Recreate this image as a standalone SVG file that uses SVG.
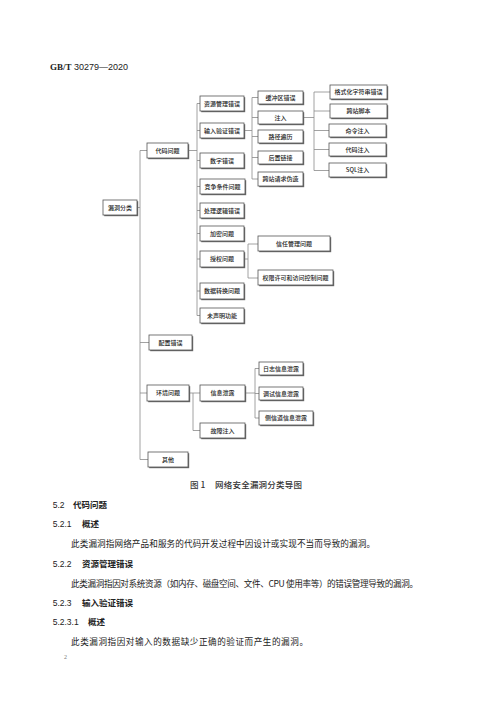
<svg xmlns="http://www.w3.org/2000/svg" width="500" height="707" viewBox="0 0 500 707">
<defs>
<style>
.bx rect.s{fill:#6a6a6a;}
.bx rect.b{fill:#fff;stroke:#555;stroke-width:0.8;}
.bx text{font-family:"Noto Sans CJK SC","Noto Sans",sans-serif;font-size:6px;font-weight:500;fill:#222;text-anchor:middle;}
.cn path{fill:none;stroke:#8a8a8a;stroke-width:0.8;}
.h{font-family:"Noto Sans CJK SC","Liberation Sans",sans-serif;font-size:8.5px;font-weight:700;fill:#222;}
.num{font-family:"Liberation Sans","Noto Sans CJK SC",sans-serif;font-size:8.5px;font-weight:400;fill:#222;}
.p{font-family:"Noto Sans CJK SC",sans-serif;font-size:8.6px;font-weight:400;fill:#222;}
.cap{font-family:"Noto Sans CJK SC","Liberation Sans",sans-serif;font-size:8.5px;font-weight:500;fill:#333;}
</style>
</defs>
<rect x="0" y="0" width="500" height="707" fill="#fff"/>

<text x="50" y="69.5" style="font-family:'Liberation Serif',serif;font-size:9px;font-weight:700;fill:#222">GB/T<tspan style="font-family:'Liberation Sans',sans-serif;font-weight:400"> 30279—2020</tspan></text>

<g class="cn" id="connectors">
<path d="M137 207.5H140M140 150.5V459.5M140 150.5H147M140 342.5H149M140 393H147M140 459.5H148"/>
<path d="M188 150.5H197M197 103.5V315.5M197 103.5H200M197 130.5H200M197 160.5H200M197 186.5H200M197 210.5H200M197 233.5H200M197 259H200M197 291H200M197 315.5H200"/>
<path d="M244 130.5H252M252 97.5V179M252 97.5H258M252 117.5H258M252 136.5H258M252 157.5H258M252 179H258"/>
<path d="M303 117.5H314M314 92V170.5M314 92H330M314 111H330M314 130.5H330M314 149.5H330M314 170.5H330"/>
<path d="M244 259H248M248 244V278M248 244H258M248 278H258"/>
<path d="M189 393H193M193 393V430.5M193 393H200M193 430.5H200"/>
<path d="M245 393H255M255 368.5V418M255 368.5H259M255 393.5H259M255 418H259"/>
</g>

<g class="bx" id="n-root"><rect class="s" x="104.2" y="201.2" width="34" height="15"/><rect class="b" x="103" y="200" width="34" height="15"/><text x="120" y="209.6">漏洞分类</text></g>

<g class="bx" id="n-code"><rect class="s" x="148.2" y="144.2" width="41" height="15"/><rect class="b" x="147" y="143" width="41" height="15"/><text x="167.5" y="152.6">代码问题</text></g>
<g class="bx" id="n-config"><rect class="s" x="150.2" y="336.2" width="43" height="15"/><rect class="b" x="149" y="335" width="43" height="15"/><text x="170.5" y="344.6">配置错误</text></g>
<g class="bx" id="n-env"><rect class="s" x="148.2" y="386.2" width="42" height="16"/><rect class="b" x="147" y="385" width="42" height="16"/><text x="168" y="395.1">环境问题</text></g>
<g class="bx" id="n-other"><rect class="s" x="149.2" y="453.2" width="40" height="15"/><rect class="b" x="148" y="452" width="40" height="15"/><text x="168" y="461.6">其他</text></g>

<g class="bx" id="n-res"><rect class="s" x="201.2" y="97.2" width="44" height="15"/><rect class="b" x="200" y="96" width="44" height="15"/><text x="222" y="105.6">资源管理错误</text></g>
<g class="bx" id="n-input"><rect class="s" x="201.2" y="124.2" width="44" height="15"/><rect class="b" x="200" y="123" width="44" height="15"/><text x="222" y="132.6">输入验证错误</text></g>
<g class="bx" id="n-num"><rect class="s" x="201.2" y="154.2" width="44" height="15"/><rect class="b" x="200" y="153" width="44" height="15"/><text x="222" y="162.6">数字错误</text></g>
<g class="bx" id="n-race"><rect class="s" x="201.2" y="180.2" width="45" height="15"/><rect class="b" x="200" y="179" width="45" height="15"/><text x="222.5" y="188.6">竞争条件问题</text></g>
<g class="bx" id="n-logic"><rect class="s" x="201.2" y="204.2" width="44" height="15"/><rect class="b" x="200" y="203" width="44" height="15"/><text x="222" y="212.6">处理逻辑错误</text></g>
<g class="bx" id="n-crypto"><rect class="s" x="201.2" y="227.2" width="44" height="15"/><rect class="b" x="200" y="226" width="44" height="15"/><text x="222" y="235.6">加密问题</text></g>
<g class="bx" id="n-auth"><rect class="s" x="201.2" y="252.2" width="44" height="16"/><rect class="b" x="200" y="251" width="44" height="16"/><text x="222" y="261.1">授权问题</text></g>
<g class="bx" id="n-conv"><rect class="s" x="201.2" y="284.2" width="44" height="16"/><rect class="b" x="200" y="283" width="44" height="16"/><text x="222" y="293.1">数据转换问题</text></g>
<g class="bx" id="n-undecl"><rect class="s" x="201.2" y="309.2" width="44" height="15"/><rect class="b" x="200" y="308" width="44" height="15"/><text x="222" y="317.6">未声明功能</text></g>

<g class="bx" id="n-buf"><rect class="s" x="259.2" y="92.2" width="45" height="13"/><rect class="b" x="258" y="91" width="45" height="13"/><text x="280.5" y="99.6">缓冲区错误</text></g>
<g class="bx" id="n-inj"><rect class="s" x="259.2" y="112.2" width="45" height="13"/><rect class="b" x="258" y="111" width="45" height="13"/><text x="280.5" y="119.6">注入</text></g>
<g class="bx" id="n-path"><rect class="s" x="259.2" y="131.2" width="45" height="13"/><rect class="b" x="258" y="130" width="45" height="13"/><text x="280.5" y="138.6">路径遍历</text></g>
<g class="bx" id="n-link"><rect class="s" x="259.2" y="152.2" width="45" height="13"/><rect class="b" x="258" y="151" width="45" height="13"/><text x="280.5" y="159.6">后置链接</text></g>
<g class="bx" id="n-csrf"><rect class="s" x="259.2" y="173.2" width="45" height="14"/><rect class="b" x="258" y="172" width="45" height="14"/><text x="280.5" y="181.1">跨站请求伪造</text></g>

<g class="bx" id="n-fmt"><rect class="s" x="331.2" y="86.2" width="57" height="14"/><rect class="b" x="330" y="85" width="57" height="14"/><text x="358.5" y="94.1">格式化字符串错误</text></g>
<g class="bx" id="n-xss"><rect class="s" x="331.2" y="105.2" width="57" height="14"/><rect class="b" x="330" y="104" width="57" height="14"/><text x="358.5" y="113.1">跨站脚本</text></g>
<g class="bx" id="n-cmd"><rect class="s" x="330.2" y="125.2" width="57" height="13"/><rect class="b" x="329" y="124" width="57" height="13"/><text x="357.5" y="132.6">命令注入</text></g>
<g class="bx" id="n-codeinj"><rect class="s" x="330.2" y="144.2" width="57" height="13"/><rect class="b" x="329" y="143" width="57" height="13"/><text x="357.5" y="151.6">代码注入</text></g>
<g class="bx" id="n-sql"><rect class="s" x="330.2" y="164.2" width="57" height="14"/><rect class="b" x="329" y="163" width="57" height="14"/><text x="357.5" y="172.1">SQL注入</text></g>

<g class="bx" id="n-trust"><rect class="s" x="259.2" y="237.2" width="72" height="15"/><rect class="b" x="258" y="236" width="72" height="15"/><text x="294" y="245.6">信任管理问题</text></g>
<g class="bx" id="n-perm"><rect class="s" x="259.2" y="271.2" width="75" height="15"/><rect class="b" x="258" y="270" width="75" height="15"/><text x="295.5" y="279.6">权限许可和访问控制问题</text></g>

<g class="bx" id="n-leak"><rect class="s" x="201.2" y="386.2" width="45" height="16"/><rect class="b" x="200" y="385" width="45" height="16"/><text x="222.5" y="395.1">信息泄露</text></g>
<g class="bx" id="n-fault"><rect class="s" x="201.2" y="424.2" width="45" height="15"/><rect class="b" x="200" y="423" width="45" height="15"/><text x="222.5" y="432.6">故障注入</text></g>

<g class="bx" id="n-log"><rect class="s" x="260.2" y="363.2" width="44" height="13"/><rect class="b" x="259" y="362" width="44" height="13"/><text x="281" y="370.6">日志信息泄露</text></g>
<g class="bx" id="n-debug"><rect class="s" x="260.2" y="388.2" width="44" height="13"/><rect class="b" x="259" y="387" width="44" height="13"/><text x="281" y="395.6">调试信息泄露</text></g>
<g class="bx" id="n-side"><rect class="s" x="260.2" y="412.2" width="54" height="14"/><rect class="b" x="259" y="411" width="54" height="14"/><text x="286" y="420.1">侧信道信息泄露</text></g>

<text class="cap" x="190" y="487.5">图 1</text>
<text class="cap" x="215" y="487.5" textLength="87" lengthAdjust="spacing">网络安全漏洞分类导图</text>

<text class="num" x="52.7" y="507.5">5.2</text><text class="h" x="73" y="507.5">代码问题</text>
<text class="num" x="52.7" y="527">5.2.1</text><text class="h" x="82" y="527">概述</text>
<text class="p" x="71" y="547" textLength="304" lengthAdjust="spacing">此类漏洞指网络产品和服务的代码开发过程中因设计或实现不当而导致的漏洞。</text>
<text class="num" x="52.7" y="566.5">5.2.2</text><text class="h" x="82" y="566.5">资源管理错误</text>
<text class="p" x="71" y="586.5" textLength="347" lengthAdjust="spacing">此类漏洞指因对系统资源（如内存、磁盘空间、文件、CPU 使用率等）的错误管理导致的漏洞。</text>
<text class="num" x="52.7" y="605.5">5.2.3</text><text class="h" x="82" y="605.5">输入验证错误</text>
<text class="num" x="52.7" y="624.5">5.2.3.1</text><text class="h" x="88" y="624.5">概述</text>
<text class="p" x="71" y="644.5" textLength="237" lengthAdjust="spacing">此类漏洞指因对输入的数据缺少正确的验证而产生的漏洞。</text>
<text x="64" y="659" style="font-family:'Liberation Serif',serif;font-size:6px;fill:#777">2</text>
</svg>
